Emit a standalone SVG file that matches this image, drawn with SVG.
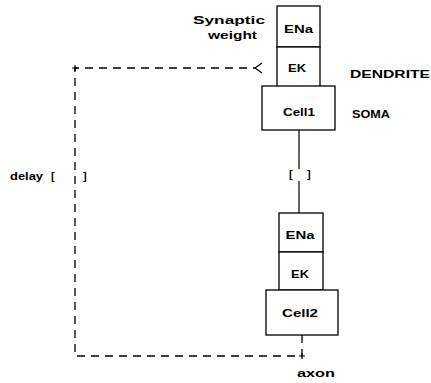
<svg xmlns="http://www.w3.org/2000/svg" width="431" height="383" viewBox="0 0 431 383">
<style>
.box{fill:#fff;stroke:#000;stroke-width:1.3}
.t{font-family:"Liberation Sans",Arial,sans-serif;font-weight:bold;font-size:11px;fill:#000}
.dash{fill:none;stroke:#000;stroke-width:1.3;stroke-dasharray:8,6}
.solid{fill:none;stroke:#000;stroke-width:1.2}
</style>
<g id="connectors">
<line class="solid" x1="299" y1="130" x2="299" y2="169"/>
<line class="solid" x1="299" y1="181" x2="299" y2="213"/>
<text class="t" x="289" y="178">[</text>
<text class="t" x="307" y="178">]</text>
<polyline class="dash" points="302,335 302,356 75,356 75,68 256,68"/>
<path class="solid" d="M262,63 L255,68 L262,73" stroke-width="1.4"/>
<path class="solid" d="M72,68 H78 M75,65 V71" stroke-width="1.4"/>
<path class="solid" d="M299,356 H305 M302,353 V359" stroke-width="1.4"/>
</g>
<g id="delay">
<text class="t" x="10" y="180" textLength="33" lengthAdjust="spacingAndGlyphs">delay</text>
<text class="t" x="51" y="180">[</text>
<text class="t" x="83" y="180">]</text>
</g>
<g id="synaptic-weight">
<text class="t" x="193" y="24" textLength="72" lengthAdjust="spacingAndGlyphs">Synaptic</text>
<text class="t" x="208" y="39" textLength="49" lengthAdjust="spacingAndGlyphs">weight</text>
</g>
<g id="ENa1"><rect class="box" x="277" y="6" width="43" height="41"/><text class="t" x="298.5" y="33" text-anchor="middle" textLength="29" lengthAdjust="spacingAndGlyphs">ENa</text></g>
<g id="EK1"><rect class="box" x="277" y="47" width="43" height="40"/><text class="t" x="297" y="72" text-anchor="middle" textLength="18" lengthAdjust="spacingAndGlyphs">EK</text></g>
<g id="Cell1"><rect class="box" x="262" y="86" width="73" height="44"/><text class="t" x="299" y="116" text-anchor="middle" textLength="32" lengthAdjust="spacingAndGlyphs">Cell1</text></g>
<g id="dendrite-label"><text class="t" x="350" y="78" textLength="80" lengthAdjust="spacingAndGlyphs">DENDRITE</text></g>
<g id="soma-label"><text class="t" x="352" y="118" textLength="38" lengthAdjust="spacingAndGlyphs">SOMA</text></g>
<g id="ENa2"><rect class="box" x="279" y="213" width="44" height="39"/><text class="t" x="300" y="239" text-anchor="middle" textLength="29" lengthAdjust="spacingAndGlyphs">ENa</text></g>
<g id="EK2"><rect class="box" x="279" y="252" width="44" height="38"/><text class="t" x="300" y="278" text-anchor="middle" textLength="18" lengthAdjust="spacingAndGlyphs">EK</text></g>
<g id="Cell2"><rect class="box" x="266" y="290" width="72" height="45"/><text class="t" x="300" y="317" text-anchor="middle" textLength="36" lengthAdjust="spacingAndGlyphs">Cell2</text></g>
<g id="axon-label"><text class="t" x="297" y="377" textLength="38" lengthAdjust="spacingAndGlyphs">axon</text></g>
</svg>
